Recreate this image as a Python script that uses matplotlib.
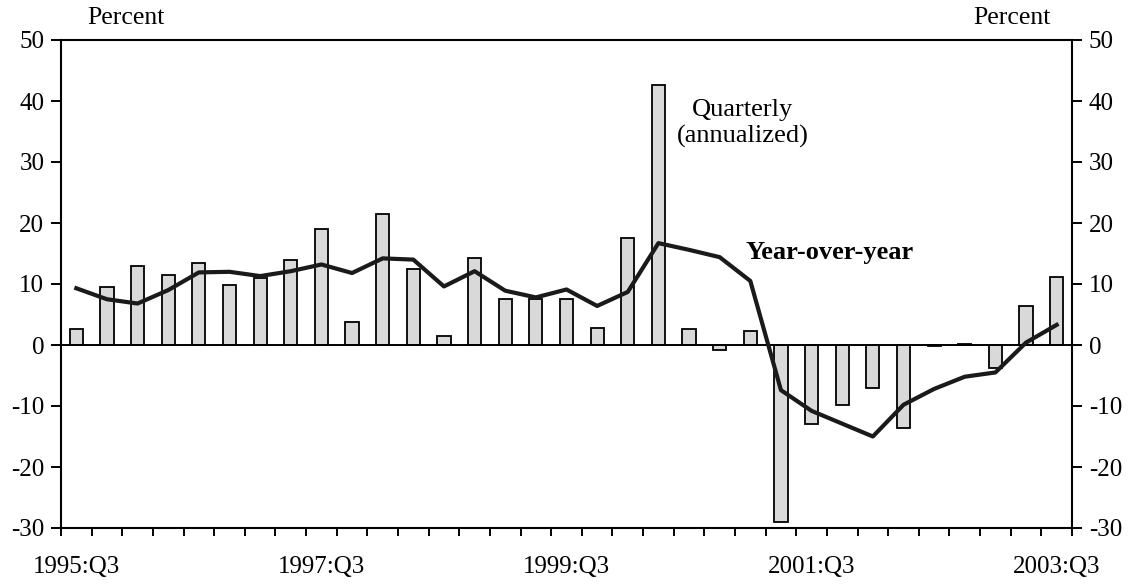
import matplotlib
matplotlib.use("Agg")
import matplotlib.pyplot as plt
import numpy as np

plt.rcParams['font.family'] = ['Liberation Serif', 'DejaVu Serif']

quarters = ["1995:Q3", "1995:Q4", "1996:Q1", "1996:Q2", "1996:Q3", "1996:Q4",
            "1997:Q1", "1997:Q2", "1997:Q3", "1997:Q4", "1998:Q1", "1998:Q2",
            "1998:Q3", "1998:Q4", "1999:Q1", "1999:Q2", "1999:Q3", "1999:Q4",
            "2000:Q1", "2000:Q2", "2000:Q3", "2000:Q4", "2001:Q1", "2001:Q2",
            "2001:Q3", "2001:Q4", "2002:Q1", "2002:Q2", "2002:Q3", "2002:Q4",
            "2003:Q1", "2003:Q2", "2003:Q3"]
quarterly = [2.6, 9.5, 13.0, 11.4, 13.5, 9.8, 11.0, 13.9, 19.0, 3.8, 21.5,
             12.4, 1.5, 14.2, 7.6, 7.5, 7.5, 2.8, 17.5, 42.6, 2.7, -0.9, 2.3,
             -29.0, -13.0, -9.8, -7.0, -13.6, -0.2, 0.1, -3.7, 6.4, 11.2]
yoy = [9.3, 7.5, 6.8, 9.0, 11.9, 12.0, 11.3, 12.1, 13.2, 11.8, 14.2,
       14.0, 9.6, 12.1, 8.9, 7.8, 9.1, 6.4, 8.7, 16.7, 15.6, 14.4, 10.5,
       -7.4, -10.8, -12.9, -15.0, -9.8, -7.2, -5.2, -4.5, 0.4, 3.3]
label_quarters = ["1995:Q3", "1997:Q3", "1999:Q3", "2001:Q3", "2003:Q3"]
yticks = [-30, -20, -10, 0, 10, 20, 30, 40, 50]

fig = plt.figure(figsize=(11.31, 5.86), dpi=100)
ax = fig.add_axes([61/1131, 1 - 528/586, (1072-61)/1131, (528-40)/586])

x = np.arange(len(quarters))
ax.bar(x, quarterly, width=0.43, color='#d9d9d9', edgecolor='black', linewidth=1.3, zorder=2)
ax.axhline(0, color='black', linewidth=1.4, zorder=3)
ax.plot(x, yoy, color='#1a1a1a', linewidth=3.0, zorder=4, solid_joinstyle='round')

ax.set_xlim(-0.5, len(quarters) - 0.5)
ax.set_ylim(-30, 50)

ax.set_xticks([quarters.index(q) for q in label_quarters])
ax.set_xticklabels(label_quarters, fontsize=18)
ax.set_xticks(np.arange(-0.5, len(quarters)), minor=True)
ax.tick_params(axis='x', which='major', length=0, pad=20)
ax.tick_params(axis='x', which='minor', length=6, width=1.4, direction='out')

ax.set_yticks(yticks)
ax.set_yticklabels([str(v) for v in yticks], fontsize=18)
ax.tick_params(axis='y', which='major', length=7, width=1.4, direction='out',
               left=True, right=True, labelleft=True, labelright=True, pad=5)

for s in ax.spines.values():
    s.set_linewidth(1.5)

ax.text(21.76, 38.6, "Quarterly", ha='center', va='center', fontsize=19)
ax.text(21.76, 34.2, "(annualized)", ha='center', va='center', fontsize=19)
ax.text(21.85, 15.2, "Year-over-year", ha='left', va='center', fontsize=19, fontweight='bold')

fig.text(126/1131, 1 - 18/586, "Percent", ha='center', va='center', fontsize=18.5)
fig.text(1012/1131, 1 - 18/586, "Percent", ha='center', va='center', fontsize=18.5)

fig.savefig("out.png", dpi=100)
